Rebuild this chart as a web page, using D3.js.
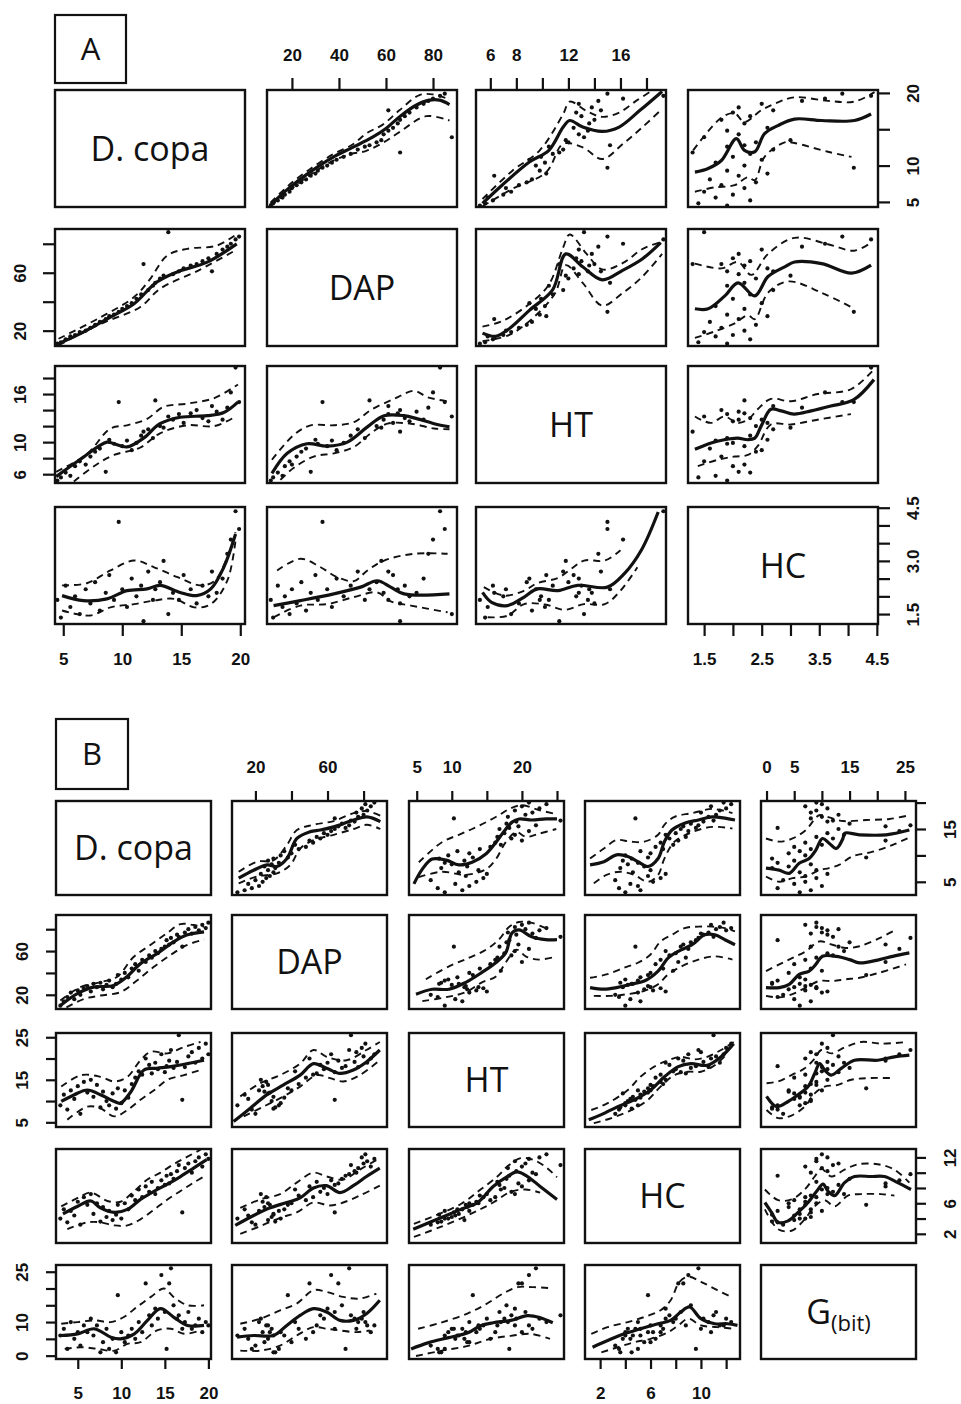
<!DOCTYPE html>
<html>
<head>
<meta charset="utf-8">
<script src="https://cdn.jsdelivr.net/npm/d3@7"></script>
<style>
  body { margin: 0; background: #fff; }
  .tick text { font-family: "Liberation Sans", Arial, sans-serif; }
</style>
</head>
<body>
<svg id="chart" width="961" height="1404"></svg>
<script>
// ---------- Panel A : observations (D. copa, DAP, HT, HC) ----------
const namesA = ["D. copa", "DAP", "HT", "HC"];
const dcopaA = [4.5,4.8,5.2,5.6,6.0,6.4,6.9,7.3,7.7,8.1,8.6,8.9,9.3,9.7,10.0,10.4,10.8,11.2,11.6,11.8,12.2,12.6,12.8,13.2,13.5,13.9,14.3,14.8,15.2,15.8,16.3,16.8,17.3,17.6,18.0,18.5,18.9,19.2,19.6,19.9];
const dapA   = [11,12,14,16,17,19,20,22,24,26,28,30,31,33,35,37,39,42,45,66,48,51,53,56,58,88,59,61,63,65,66,68,70,61,73,76,78,80,83,85];
const htA    = [5.2,5.6,6.2,5.8,7.0,7.6,7.2,8.2,8.8,9.2,6.3,10.3,9.8,15.0,9.5,10.2,9.0,9.9,10.8,11.3,11.6,10.5,15.2,12.0,11.8,13.2,12.8,13.5,12.4,13.6,14.0,13.0,12.6,14.5,13.8,12.8,14.3,16.2,19.3,15.0];
const hcA    = [1.9,1.4,2.3,1.7,2.0,1.5,2.2,1.8,2.4,1.6,2.1,2.6,1.9,4.1,2.2,1.7,2.5,2.0,2.3,1.3,2.7,1.9,2.2,2.4,3.0,1.5,2.1,1.9,2.6,2.2,1.8,2.3,2.0,2.7,2.1,2.5,3.2,3.6,4.4,3.9];
const domainsA = [[4.3, 20.4], [9.4, 90.2], [4.9, 19.5], [1.22, 4.52]];

// smooth fit + upper / lower dashed band, per cell: [row, col, fit, upper, lower]
const smoothA = [
  [0,1,
   [[10.9,4.6],[18.7,6.9],[27.2,9.0],[37.2,11.1],[45.8,12.5],[54.3,13.9],[60.0,15.1],[65.7,16.7],[72.8,18.3],[78.5,19.0],[82.8,19.0],[87.0,18.4]],
   [[10.9,4.9],[18.7,7.3],[27.2,9.4],[37.2,11.5],[45.8,12.9],[52,14.5],[58.5,15.6],[65.7,17.6],[74.2,19.7],[79.9,19.8],[86.3,19.2]],
   [[10.9,4.4],[18.7,6.5],[27.2,8.6],[37.2,10.6],[45,11.6],[51.4,12.0],[58.5,13.1],[65.7,14.6],[77.1,16.8],[87.0,16.2]]],
  [0,2,
   [[5.4,4.8],[6.9,7.3],[9.0,10.5],[10.5,12.1],[11.6,15.3],[12.1,16.2],[13.1,15.3],[14.6,14.7],[15.9,15.3],[17.5,17.6],[19.2,20.2]],
   [[5.4,5.4],[7.7,9.3],[9.8,12.1],[11.6,17.1],[12.1,18.8],[13.4,17.5],[14.6,16.7],[15.9,17.3],[17.2,18.9],[18.5,20.4]],
   [[5.4,4.4],[7.7,6.8],[10.3,9.1],[11.6,13.0],[13.1,12.5],[14.6,10.9],[16.2,13.0],[17.7,15.3],[19.2,17.8]]],
  [0,3,
   [[1.34,9.1],[1.57,9.6],[1.80,10.7],[2.06,13.7],[2.20,12.1],[2.38,11.9],[2.55,14.4],[2.78,15.5],[3.07,16.4],[3.54,16.2],[4.11,16.2],[4.40,17.1]],
   [[1.31,12.1],[1.80,16.6],[2.03,17.2],[2.20,16.0],[2.49,17.6],[2.78,18.7],[3.07,19.4],[3.65,18.9],[4.11,18.8],[4.46,20.1]],
   [[1.34,6.4],[1.68,7.0],[2.03,7.3],[2.26,8.4],[2.38,8.0],[2.55,11.2],[2.90,13.2],[3.07,13.1],[3.65,11.9],[4.06,11.2]]],
  [1,0,
   [[4.6,11.0],[6.7,19.0],[9.0,29.4],[11.0,38.6],[12.9,53.4],[14.6,60.4],[17.2,67.3],[19.7,79.9]],
   [[4.6,14.4],[8.2,29.4],[11.0,43.2],[12.3,55],[13.8,71.8],[15.5,76.5],[18.0,78.7],[19.7,86.7]],
   [[4.6,9.9],[8.2,24.8],[11.5,36.2],[13.2,48.9],[16.6,62.2],[19.7,76.0]]],
  [1,2,
   [[5.4,18.3],[6.4,16.1],[7.5,21.7],[9.0,34.0],[10.8,48.4],[11.8,73.0],[13.1,64.1],[14.6,55.1],[16.2,61.8],[17.7,69.7],[19.1,80.8]],
   [[5.4,22.8],[6.9,26.6],[9.0,38.4],[10.5,51.8],[11.6,77.5],[12.1,86.4],[13.4,73.0],[14.6,62.3],[16.2,66.8],[17.7,76.4],[19.2,81.5]],
   [[5.4,12.7],[7.5,17.2],[9.5,30.6],[11.0,46.2],[11.8,65.2],[13.1,53.0],[14.6,37.3],[16.2,46.2],[17.7,57.4],[19.2,73.0]]],
  [1,3,
   [[1.34,35.1],[1.57,35.1],[1.86,44.0],[2.09,53.0],[2.38,44.0],[2.61,57.4],[2.90,64.1],[3.07,67.4],[3.54,66.3],[4.06,59.7],[4.40,65.2]],
   [[1.34,66.3],[1.80,63.0],[2.09,67.4],[2.32,58.5],[2.61,73.0],[3.07,84.1],[3.65,79.7],[4.11,75.2],[4.40,80.8]],
   [[1.34,15.0],[1.68,19.4],[2.03,25.0],[2.26,30.6],[2.38,27.9],[2.61,46.2],[2.96,54.0],[3.54,46.2],[4.11,35.1]]],
  [2,0,
   [[4.4,5.7],[6.4,7.8],[8.7,10.0],[9.3,9.8],[10.4,9.4],[11.8,10.5],[13.2,12.3],[14.9,13.1],[17.2,13.3],[18.6,13.7],[19.8,15.0]],
   [[4.4,6.3],[7.0,8.5],[9.0,11.7],[10.4,12.1],[12.1,12.9],[13.5,14.4],[15.5,14.8],[17.8,15.5],[19.8,17.2]],
   [[5.9,5.1],[7.6,7.0],[9.3,8.4],[11.5,9.3],[13.2,11.1],[15.5,12.1],[17.8,12.0],[19.5,13.1]]],
  [2,1,
   [[11.5,6.1],[18.0,8.6],[26.4,9.8],[35.0,9.5],[43.6,10.0],[52.1,11.9],[59.2,13.3],[67.7,13.3],[73.4,12.9],[80.5,12.3],[87.0,11.9]],
   [[11.5,7.8],[20.8,10.9],[27.9,12.1],[37.8,12.1],[46.4,12.5],[53.5,14.0],[63.5,15.4],[72.0,16.4],[77.7,15.6],[86.2,15.1]],
   [[15.1,5.3],[20.8,6.8],[29.3,8.2],[37.8,8.6],[46.4,9.4],[53.5,11.1],[60.6,12.3],[70.6,12.3],[80.5,11.7],[87.0,11.6]]],
  [2,3,
   [[1.34,9.1],[1.62,9.9],[1.85,10.3],[2.08,10.5],[2.26,10.3],[2.38,10.5],[2.49,12.0],[2.66,14.1],[2.84,13.9],[3.06,13.5],[3.36,13.9],[3.70,14.5],[4.10,15.3],[4.45,17.8]],
   [[1.34,13.2],[1.62,12.4],[1.85,13.2],[2.08,12.4],[2.26,12.8],[2.43,14.1],[2.66,15.4],[3.01,15.1],[3.47,16.0],[4.05,16.6],[4.45,19.1]],
   [[1.39,7.0],[1.74,7.8],[2.03,8.2],[2.26,8.4],[2.43,9.5],[2.66,12.2],[3.01,12.2],[3.47,12.8],[4.05,13.5]]],
  [3,0,
   [[4.9,2.02],[6.7,1.88],[8.7,1.93],[10.4,2.16],[12.1,2.21],[13.2,2.31],[14.9,2.11],[16.3,2.02],[17.5,2.21],[18.6,2.82],[19.6,3.76]],
   [[4.9,2.31],[7.0,2.37],[9.0,2.73],[11.0,3.01],[12.7,2.82],[14.7,2.54],[16.6,2.31],[17.8,2.43],[18.9,3.10],[19.6,3.81]],
   [[4.9,1.60],[7.3,1.46],[9.0,1.69],[11.0,1.78],[12.7,1.88],[14.4,1.93],[16.1,1.69],[17.5,1.78],[18.9,2.44],[19.6,3.58]]],
  [3,1,
   [[12.2,1.74],[23.6,1.88],[37.8,2.07],[49.2,2.26],[56.3,2.44],[62.0,2.26],[67.7,2.07],[87.0,2.07]],
   [[13.7,2.73],[23.6,3.06],[32.2,2.82],[39.3,2.54],[46.4,2.43],[52.1,2.73],[59.2,3.01],[72.0,3.20],[86.2,3.20]],
   [[12.2,1.41],[23.6,1.74],[35.0,1.78],[46.4,1.98],[56.3,2.11],[62.0,1.86],[70.6,1.74],[86.2,1.55]]],
  [3,2,
   [[5.4,2.11],[6.1,1.83],[7.3,1.74],[8.6,1.98],[9.6,2.21],[11.2,2.16],[12.7,2.31],[15.0,2.26],[16.3,2.64],[17.6,3.30],[18.9,4.38]],
   [[5.5,2.26],[7.1,2.02],[8.6,2.16],[9.6,2.37],[11.2,2.52],[12.2,2.77],[13.2,3.01],[14.8,3.01],[16.0,3.30]],
   [[5.8,1.41],[7.3,1.45],[8.6,1.78],[10.2,1.77],[11.7,1.62],[13.2,1.78],[14.8,1.78],[16.0,2.16],[17.3,2.82]]]
];

const axesA = [
  { side: "top",    v: 1, ticks: [20,40,60,80],              labels: [20,40,60,80] },
  { side: "top",    v: 2, ticks: [6,8,10,12,14,16,18],        labels: [6,8,12,16] },
  { side: "right",  v: 0, ticks: [5,10,15,20],                labels: [5,10,20] },
  { side: "left",   v: 1, ticks: [20,40,60,80],               labels: [20,60] },
  { side: "left",   v: 2, ticks: [6,8,10,12,14,16,18],        labels: [6,10,16] },
  { side: "bottom", v: 0, ticks: [5,10,15,20],                labels: [5,10,15,20] },
  { side: "bottom", v: 3, ticks: [1.5,2,2.5,3,3.5,4,4.5],     labels: [1.5,2.5,3.5,4.5] },
  { side: "right",  v: 3, ticks: [1.5,2,2.5,3,3.5,4,4.5],     labels: [1.5,3,4.5], fmt: ".1f" }
];

// ---------- Panel B : observations (D. copa, DAP, HT, HC, G(bit)) ----------
const namesB = ["D. copa", "DAP", "HT", "HC", "G"];
const subsB  = ["", "", "", "", "(bit)"];
const dcopaB = [3.0,3.4,3.8,4.2,4.6,5.0,5.3,5.7,6.1,6.5,6.8,7.2,7.6,7.9,8.3,8.6,9.0,9.4,9.6,10.0,10.4,10.8,11.2,11.6,12.0,12.4,12.8,13.2,13.5,13.9,14.2,14.6,15.0,15.2,15.5,15.7,16.0,16.4,16.6,17.0,17.3,17.7,18.1,18.5,18.9,19.3,19.7,20.0];
const dapB   = [10,14,18,22,16,24,20,26,28,23,30,27,31,25,29,33,27,30,38,34,40,36,44,48,42,52,50,56,54,60,58,62,64,70,66,72,68,75,73,64,77,80,76,82,79,84,81,86];
const htB    = [9.0,11.5,8.0,12.5,10.5,13.5,7.0,14.5,12.0,15.0,11.0,13.8,8.5,12.2,10.0,9.0,11.8,8.2,13.0,9.5,12.5,10.8,14.0,15.5,17.0,16.2,20.0,18.5,16.5,19.0,17.5,21.0,16.8,18.2,19.5,22.0,17.8,19.2,25.5,10.3,18.0,20.5,21.5,19.0,22.5,20.0,23.5,21.0];
const hcB    = [4.0,5.2,3.5,5.0,4.4,6.2,3.2,6.8,5.8,7.2,4.6,6.0,3.6,5.5,4.2,5.0,3.8,4.5,5.8,4.0,6.0,5.2,7.0,6.4,7.8,6.8,8.2,7.5,8.8,7.2,8.0,9.0,8.4,9.6,8.6,9.8,9.2,10.2,11.0,4.8,10.6,11.2,10.0,11.5,12.0,10.8,12.4,11.8];
const gB     = [6,8,2,10,5,7,3,9,7,11,6,9,1,4,8,2,5,1,18,7,4,6,8,5,10,7,21.5,12,9,14,11,24,13,2,21.5,26,15,11,12,8,10,13,8,9,11,7,10,9];
const domainsB = [[2.5, 20.3], [7, 93], [3.9, 26], [0.8, 13.1], [-1, 27]];

const smoothB = [
  [0,1,
   [[10.7,5.7],[19.0,7.2],[26.4,8.2],[31.9,7.9],[37.5,9.4],[43.0,13.2],[50.4,14.5],[56.0,14.8],[63.4,15.4],[74.5,16.7],[81.9,17.3],[89.3,16.4]],
   [[10.7,6.9],[20.8,8.8],[30.1,9.1],[37.5,12.0],[43.0,14.8],[52.3,15.8],[63.4,16.5],[74.5,18.0],[81.9,18.4],[89.3,17.5]],
   [[10.7,4.7],[20.8,6.0],[32.0,6.6],[39.4,8.2],[44.9,11.3],[52.3,12.9],[63.4,13.9],[74.5,15.0],[81.9,15.8],[89.3,15.0]]],
  [0,2,
   [[4.6,4.6],[5.8,7.4],[7.2,9.3],[9.2,9.1],[11.0,8.2],[12.9,8.7],[14.9,10.3],[16.3,12.5],[17.2,14.1],[18.6,16.3],[19.6,16.9],[21.4,16.7],[23.4,16.9],[25.0,16.9]],
   [[5.3,8.7],[8.6,12.5],[11.0,13.9],[12.9,15.0],[14.9,16.3],[16.7,17.6],[18.2,18.8],[20.0,19.5],[22.4,18.6],[24.9,17.8]],
   [[5.3,5.9],[8.6,6.9],[12.0,6.3],[14.9,7.4],[16.3,9.3],[17.7,12.5],[19.2,14.4],[20.6,13.5],[22.4,14.1],[24.9,15.0]]],
  [0,3,
   [[1.2,8.2],[2.3,8.8],[3.3,10.1],[4.2,9.8],[5.0,8.8],[5.8,7.9],[6.6,9.4],[7.1,12.6],[7.7,14.8],[8.7,16.1],[9.8,16.7],[10.9,17.3],[12.0,17.0],[12.7,16.7]],
   [[1.2,9.4],[2.3,11.3],[3.3,12.9],[4.4,12.6],[5.5,12.6],[6.6,13.9],[7.1,15.8],[7.9,17.3],[9.3,18.0],[10.9,18.8],[12.5,18.0]],
   [[1.5,4.7],[2.5,6.3],[3.6,6.9],[4.7,6.3],[5.8,5.0],[6.6,6.3],[7.1,9.4],[7.9,12.6],[9.3,14.4],[10.9,15.4],[12.5,15.1]]],
  [0,4,
   [[-0.1,7.6],[2.3,7.2],[4.1,6.6],[5.9,8.5],[7.7,9.4],[8.9,11.0],[10.1,13.2],[11.3,12.3],[12.6,11.3],[13.8,13.2],[14.1,14.2],[16.8,13.9],[21.6,13.9],[25.8,14.8]],
   [[-0.1,13.2],[2.3,12.6],[4.7,13.2],[7.1,14.8],[9.5,17.6],[11.3,17.2],[13.8,16.5],[18.0,16.7],[22.2,16.9],[25.8,17.6]],
   [[-0.1,6.0],[2.3,5.0],[4.7,5.7],[7.1,6.0],[9.5,7.2],[11.3,7.6],[13.1,8.2],[15.5,9.8],[19.2,10.7],[22.8,12.0],[25.8,13.4]]],
  [1,0,
   [[3.0,10.1],[4.9,20.8],[6.8,27.0],[9.1,28.5],[10.6,36.2],[12.2,48.5],[14.1,57.7],[16.0,68.4],[17.5,74.6],[19.5,77.6]],
   [[3.0,14.7],[5.3,27.0],[7.6,31.6],[9.5,36.2],[11.4,54.6],[13.3,65.4],[15.2,76.1],[16.8,84.7],[18.3,83.8],[19.5,82.3]],
   [[3.7,8.5],[5.7,16.2],[7.6,19.3],[9.9,22.4],[11.8,33.1],[13.7,45.4],[15.6,56.1],[17.5,65.4],[19.5,70.6]]],
  [1,2,
   [[4.9,20.6],[7.2,25.1],[9.6,25.1],[12.0,31.4],[14.3,40.5],[16.3,49.6],[17.7,58.6],[18.6,76.7],[19.6,79.4],[21.4,73.0],[23.4,70.4],[25.0,70.4]],
   [[6.3,34.2],[9.6,46.0],[12.5,54.0],[14.9,61.3],[16.7,70.4],[18.2,82.2],[19.6,86.6],[21.4,85.8],[23.9,79.4]],
   [[5.8,14.2],[9.2,17.8],[12.0,22.4],[14.3,31.4],[16.3,36.8],[17.7,49.6],[19.2,61.3],[20.6,55.0],[22.4,52.2],[24.9,55.0]]],
  [1,3,
   [[1.2,26.6],[2.3,25.1],[3.3,26.6],[4.4,29.6],[5.5,32.6],[6.6,41.7],[7.4,53.8],[8.2,59.8],[9.3,65.8],[10.3,74.9],[11.1,74.9],[11.9,70.4],[12.7,65.8]],
   [[1.2,35.6],[2.5,38.6],[3.9,44.8],[5.0,49.3],[6.0,56.8],[6.8,68.8],[7.7,74.9],[8.7,81.0],[9.8,82.4],[10.9,82.4],[11.9,81.0],[12.7,78.0]],
   [[1.5,19.0],[2.8,19.0],[4.2,20.6],[5.5,23.6],[6.6,29.6],[7.4,38.6],[8.5,46.2],[9.8,52.2],[11.1,55.2],[12.5,52.2]]],
  [1,4,
   [[-0.1,26.6],[2.3,26.6],[4.1,29.6],[5.9,38.6],[7.7,41.7],[8.9,47.8],[10.1,55.2],[12.6,55.2],[15.0,52.2],[16.8,49.2],[20.4,52.2],[22.8,55.2],[25.8,58.3]],
   [[-0.1,41.7],[2.3,47.8],[4.7,53.8],[7.1,59.8],[9.5,68.8],[11.9,65.8],[14.3,62.8],[16.8,64.4],[20.4,71.8],[22.8,78.0]],
   [[-0.1,19.0],[2.3,17.6],[4.7,20.6],[7.1,26.6],[9.5,32.6],[11.9,32.6],[14.3,34.2],[16.8,35.6],[20.4,40.2],[25.2,47.8]]],
  [2,0,
   [[3.1,9.9],[4.6,11.5],[6.1,12.6],[7.6,11.5],[9.2,9.9],[9.9,9.5],[11.1,12.2],[12.6,17.3],[14.1,17.7],[15.7,18.1],[17.6,18.8],[19.5,19.6]],
   [[3.1,13.4],[5.4,16.1],[7.6,15.7],[9.2,14.6],[10.7,15.7],[12.2,19.6],[13.4,21.6],[15.3,21.2],[17.2,22.7],[19.1,23.9]],
   [[3.8,5.6],[6.1,8.7],[7.6,8.3],[9.2,6.4],[10.7,7.9],[12.2,10.3],[13.8,12.6],[15.3,15.0],[17.2,16.1],[19.1,17.3]]],
  [2,1,
   [[7.9,5.2],[17.1,8.3],[26.4,11.5],[35.6,13.8],[44.8,16.1],[52.2,18.8],[59.5,17.7],[66.9,16.5],[74.3,17.3],[81.6,19.2],[89.0,22.0]],
   [[11.6,11.1],[22.7,14.2],[33.7,16.1],[44.8,18.8],[52.2,22.0],[59.5,20.4],[70.6,19.6],[81.6,22.0],[89.0,23.9]],
   [[13.5,6.4],[24.5,8.7],[35.6,11.1],[44.8,13.4],[54.0,16.1],[61.4,15.4],[68.7,14.6],[77.9,16.1],[89.0,19.6]]],
  [2,3,
   [[1.1,5.6],[2.1,6.8],[3.4,8.7],[4.7,10.3],[6.0,12.6],[7.1,15.7],[8.2,18.1],[9.2,18.8],[10.5,18.4],[11.6,20.4],[12.6,23.5]],
   [[1.3,7.9],[2.6,9.5],[4.2,12.6],[5.2,15.7],[6.3,18.1],[7.4,19.6],[8.4,20.4],[9.5,19.8],[10.5,20.4],[11.6,22.0],[12.6,23.9]],
   [[1.5,4.8],[2.9,6.0],[4.5,7.9],[5.8,10.3],[6.8,13.4],[7.9,16.1],[9.0,16.9],[10.0,16.9],[11.1,18.4],[12.1,21.2]]],
  [2,4,
   [[0.0,11.1],[1.8,8.7],[3.9,9.9],[5.7,11.5],[7.5,13.4],[8.7,16.5],[9.6,18.8],[10.5,17.3],[11.7,16.1],[13.5,17.7],[15.9,19.6],[20.1,19.6],[23.1,20.4],[25.8,20.8]],
   [[0.0,14.2],[2.1,14.6],[4.5,16.1],[6.9,17.7],[8.7,20.0],[9.9,22.0],[11.7,21.2],[14.1,22.6],[17.1,23.9],[20.7,23.5],[25.5,23.9]],
   [[0.0,7.9],[2.1,6.0],[4.5,6.6],[6.9,8.7],[8.7,11.8],[10.5,13.4],[12.9,13.8],[15.3,15.0],[18.3,15.4],[23.1,15.4]]],
  [3,0,
   [[3.3,4.6],[5.0,5.6],[6.5,6.3],[7.6,5.4],[9.2,4.8],[10.7,5.2],[12.2,6.5],[13.8,7.6],[15.3,8.5],[16.8,9.5],[18.3,10.6],[19.8,11.7]],
   [[3.1,5.6],[5.0,6.7],[6.5,7.4],[8.4,6.3],[9.9,6.2],[11.5,7.6],[13.0,9.1],[14.5,10.0],[16.0,11.1],[17.6,12.1],[19.1,13.0]],
   [[3.8,2.6],[6.1,3.5],[7.6,3.5],[9.2,3.1],[10.7,3.1],[12.2,3.9],[13.8,5.2],[15.3,6.5],[16.8,7.6],[18.3,8.7],[19.5,9.5]]],
  [3,1,
   [[8.8,3.1],[19.0,4.4],[28.2,5.4],[37.4,6.1],[44.8,6.7],[52.2,8.0],[59.5,8.3],[66.9,7.4],[74.3,8.3],[81.6,9.5],[89.0,10.6]],
   [[11.6,5.4],[22.7,6.5],[33.7,7.2],[42.9,8.7],[52.2,10.0],[59.5,9.5],[68.7,9.1],[77.9,10.4],[89.0,11.9]],
   [[11.6,2.0],[22.7,3.0],[33.7,4.1],[42.9,4.8],[52.2,6.1],[61.4,5.7],[68.7,6.1],[77.9,7.0],[89.0,8.3]]],
  [3,2,
   [[4.5,2.6],[7.4,3.7],[11.3,5.2],[13.7,6.1],[15.9,8.2],[17.9,9.5],[19.3,10.1],[20.8,9.5],[22.6,8.2],[25.0,6.5]],
   [[4.6,3.3],[11.3,5.9],[14.1,7.8],[16.5,9.5],[17.9,10.8],[19.8,11.9],[21.6,11.7],[23.6,10.6],[25.0,9.4]],
   [[4.6,1.6],[8.4,2.9],[12.7,4.6],[15.9,6.1],[18.4,7.5],[20.5,7.8],[22.6,7.4]]],
  [3,4,
   [[-0.3,6.1],[0.9,4.8],[2.1,3.5],[3.9,3.7],[5.7,4.8],[7.5,6.1],[9.3,7.8],[10.2,8.5],[11.1,7.6],[12.3,7.0],[14.1,8.7],[15.9,9.5],[18.9,9.5],[21.3,9.5],[23.7,8.7],[26.1,7.8]],
   [[-0.3,7.8],[2.1,6.4],[4.5,6.5],[6.9,7.8],[8.7,9.5],[9.9,10.5],[11.7,9.5],[14.1,10.4],[16.5,11.1],[20.1,11.1],[23.1,10.4],[25.8,8.7]],
   [[-0.3,5.2],[2.1,2.6],[4.5,2.4],[6.9,3.9],[8.7,5.6],[10.5,6.4],[12.3,5.6],[14.7,7.0],[17.1,7.2],[20.7,7.2],[23.1,7.0]]],
  [4,0,
   [[3.1,6.0],[5.0,6.5],[6.9,8.0],[8.8,5.5],[9.9,5.0],[11.5,6.5],[13.0,10.5],[14.5,14.0],[16.0,11.5],[17.6,9.0],[19.5,9.0]],
   [[3.1,9.5],[5.0,10.0],[6.9,10.5],[8.8,10.0],[10.3,11.5],[11.8,14.5],[13.4,17.5],[14.9,20.0],[16.0,17.5],[17.6,15.0],[19.5,15.0]],
   [[3.5,2.0],[5.4,2.5],[7.3,2.0],[9.2,1.5],[10.7,3.5],[12.2,4.0],[14.1,7.5],[15.7,8.0],[17.2,6.5],[19.1,7.5]]],
  [4,1,
   [[9.8,5.5],[19.0,6.0],[30.0,6.0],[37.4,9.0],[44.8,12.0],[52.2,14.0],[59.5,13.0],[66.9,10.5],[74.3,10.5],[81.6,12.5],[89.0,16.5]],
   [[11.6,9.5],[22.7,11.0],[33.7,13.5],[42.9,15.5],[52.2,19.5],[59.5,19.0],[68.7,17.5],[77.9,17.0],[87.1,18.5]],
   [[11.6,1.5],[22.7,1.5],[33.7,3.0],[42.9,6.0],[52.2,8.5],[59.5,8.0],[66.9,7.5],[76.1,7.0],[83.5,7.5]]],
  [4,2,
   [[4.2,2.0],[6.6,3.8],[9.4,5.3],[12.3,6.8],[14.1,8.9],[15.9,9.8],[18.4,10.5],[20.8,11.9],[22.6,11.3],[24.4,9.8]],
   [[5.2,8.0],[8.4,9.8],[12.3,12.6],[15.1,15.6],[17.4,18.6],[19.4,20.4],[21.6,20.4],[24.0,20.1]],
   [[4.9,-0.1],[8.4,1.4],[12.3,2.9],[15.5,5.0],[18.4,5.9],[21.2,6.5],[24.0,5.0]]],
  [4,3,
   [[1.4,2.5],[2.6,4.5],[3.9,6.5],[5.2,8.0],[6.6,9.5],[7.6,10.5],[8.4,13.0],[9.1,14.5],[10.0,11.0],[11.1,9.5],[12.1,9.5],[12.9,9.0]],
   [[1.3,6.5],[2.6,8.5],[4.2,10.0],[5.5,11.5],[6.8,13.5],[7.6,16.5],[8.3,22.0],[9.0,23.5],[10.0,22.0],[11.3,19.5],[12.4,17.5]],
   [[2.1,1.0],[3.4,2.5],[4.7,4.0],[6.0,5.0],[7.4,7.0],[8.2,9.0],[9.0,11.0],[10.0,9.0],[11.3,8.5],[12.6,8.0]]]
];

const axesB = [
  { side: "top",    v: 1, ticks: [20,40,60,80],        labels: [20,60] },
  { side: "top",    v: 2, ticks: [5,10,15,20,25],      labels: [5,10,20] },
  { side: "top",    v: 4, ticks: [0,5,10,15,20,25],    labels: [0,5,15,25] },
  { side: "right",  v: 0, ticks: [5,10,15,20],         labels: [5,15] },
  { side: "left",   v: 1, ticks: [20,40,60,80],        labels: [20,60] },
  { side: "left",   v: 2, ticks: [5,10,15,20,25],      labels: [5,15,25] },
  { side: "right",  v: 3, ticks: [2,4,6,8,10,12],      labels: [2,6,12] },
  { side: "left",   v: 4, ticks: [0,5,10,15,20,25],    labels: [0,10,25] },
  { side: "bottom", v: 0, ticks: [5,10,15,20],         labels: [5,10,15,20] },
  { side: "bottom", v: 3, ticks: [2,4,6,8,10,12],      labels: [2,6,10] }
];

// ---------- drawing ----------
const svg = d3.select("#chart");
const defs = svg.append("defs");
const ink = "#111";

function drawPanel(p) {
  const n = p.names.length;
  const g = svg.append("g");
  const xs = p.domains.map((d, j) => d3.scaleLinear().domain(d).range([p.cols[j], p.cols[j] + p.w]));
  const ys = p.domains.map((d, i) => d3.scaleLinear().domain(d).range([p.rows[i] + p.h, p.rows[i]]));

  // panel letter
  g.append("rect")
    .attr("x", p.letterBox[0]).attr("y", p.letterBox[1])
    .attr("width", p.letterBox[2]).attr("height", p.letterBox[3])
    .attr("fill", "none").attr("stroke", ink).attr("stroke-width", 2.2);
  g.append("text")
    .attr("x", p.letterBox[0] + p.letterBox[2] / 2)
    .attr("y", p.letterBox[1] + p.letterBox[3] / 2 + 11)
    .attr("text-anchor", "middle")
    .attr("font-family", "'Open Sans', sans-serif")
    .attr("font-size", 31)
    .attr("fill", ink)
    .text(p.letter);

  for (let i = 0; i < n; i++) {
    for (let j = 0; j < n; j++) {
      const x0 = p.cols[j], y0 = p.rows[i];
      const cell = g.append("g");

      if (i === j) {
        const t = cell.append("text")
          .attr("x", x0 + p.w / 2)
          .attr("y", y0 + p.h / 2 + 12)
          .attr("text-anchor", "middle")
          .attr("font-family", "'Open Sans', sans-serif")
          .attr("font-size", 34)
          .attr("fill", ink);
        t.append("tspan").text(p.names[i]);
        if (p.subs && p.subs[i]) {
          t.append("tspan").attr("font-size", 22).attr("dy", 7).text(p.subs[i]);
        }
      } else {
        const id = `clip-${p.letter}-${i}-${j}`;
        defs.append("clipPath").attr("id", id)
          .append("rect").attr("x", x0).attr("y", y0).attr("width", p.w).attr("height", p.h);
        const inner = cell.append("g").attr("clip-path", `url(#${id})`);

        const pts = p.obs[0].map((_, k) => [p.obs[j][k], p.obs[i][k]]);
        inner.selectAll("circle")
          .data(pts)
          .join("circle")
          .attr("cx", d => xs[j](d[0]))
          .attr("cy", d => ys[i](d[1]))
          .attr("r", 2.1)
          .attr("fill", ink);

        const sm = p.smooth.find(s => s[0] === i && s[1] === j);
        const line = d3.line()
          .x(d => xs[j](d[0]))
          .y(d => ys[i](d[1]))
          .curve(d3.curveCatmullRom.alpha(0.5));

        [sm[3], sm[4]].forEach(band => {
          inner.append("path")
            .attr("d", line(band))
            .attr("fill", "none")
            .attr("stroke", ink)
            .attr("stroke-width", 1.9)
            .attr("stroke-dasharray", "7,5");
        });
        inner.append("path")
          .attr("d", line(sm[2]))
          .attr("fill", "none")
          .attr("stroke", ink)
          .attr("stroke-width", 3.2)
          .attr("stroke-linejoin", "round");
      }

      cell.append("rect")
        .attr("x", x0).attr("y", y0)
        .attr("width", p.w).attr("height", p.h)
        .attr("fill", "none").attr("stroke", ink).attr("stroke-width", 2.4);
    }
  }

  // outer axes
  p.axes.forEach(a => {
    const fmt = a.fmt ? d3.format(a.fmt) : d3.format("");
    const lab = d => a.labels.includes(d) ? fmt(d) : "";
    let axis, tr;
    if (a.side === "top") { axis = d3.axisTop(xs[a.v]); tr = `translate(0,${p.rows[0]})`; }
    if (a.side === "bottom") { axis = d3.axisBottom(xs[a.v]); tr = `translate(0,${p.rows[n - 1] + p.h})`; }
    if (a.side === "left") { axis = d3.axisLeft(ys[a.v]); tr = `translate(${p.cols[0]},0)`; }
    if (a.side === "right") { axis = d3.axisRight(ys[a.v]); tr = `translate(${p.cols[n - 1] + p.w},0)`; }
    axis.tickValues(a.ticks).tickSize(p.tick).tickFormat(lab);

    const ag = g.append("g").attr("transform", tr).call(axis);
    ag.select(".domain").remove();
    ag.selectAll(".tick line").attr("stroke", ink).attr("stroke-width", 2.2);
    const txt = ag.selectAll(".tick text")
      .attr("fill", ink)
      .attr("font-size", p.fontSize)
      .attr("font-weight", "bold");
    if (a.side === "top" || a.side === "bottom") {
      txt.attr("y", a.side === "top" ? -p.labelOff : p.labelOff).attr("dy", "0.36em");
    } else {
      const off = a.side === "left" ? -p.labelOff : p.labelOff;
      txt.attr("x", 0).attr("y", 0).attr("dy", "0.36em")
        .attr("text-anchor", "middle")
        .attr("transform", `translate(${off},0) rotate(-90)`);
    }
  });
}

drawPanel({
  letter: "A",
  letterBox: [55, 15, 71, 68],
  names: namesA,
  domains: domainsA,
  obs: [dcopaA, dapA, htA, hcA],
  smooth: smoothA,
  axes: axesA,
  cols: [55, 267, 476, 688],
  rows: [90, 229, 366, 507],
  w: 190, h: 117,
  tick: 12, labelOff: 35, fontSize: 17
});

drawPanel({
  letter: "B",
  letterBox: [56, 719, 72, 70],
  names: namesB,
  subs: subsB,
  domains: domainsB,
  obs: [dcopaB, dapB, htB, hcB, gB],
  smooth: smoothB,
  axes: axesB,
  cols: [56, 232, 409, 585, 761],
  rows: [801, 915, 1033, 1149, 1265],
  w: 155, h: 94,
  tick: 10, labelOff: 34, fontSize: 17
});
</script>
</body>
</html>
